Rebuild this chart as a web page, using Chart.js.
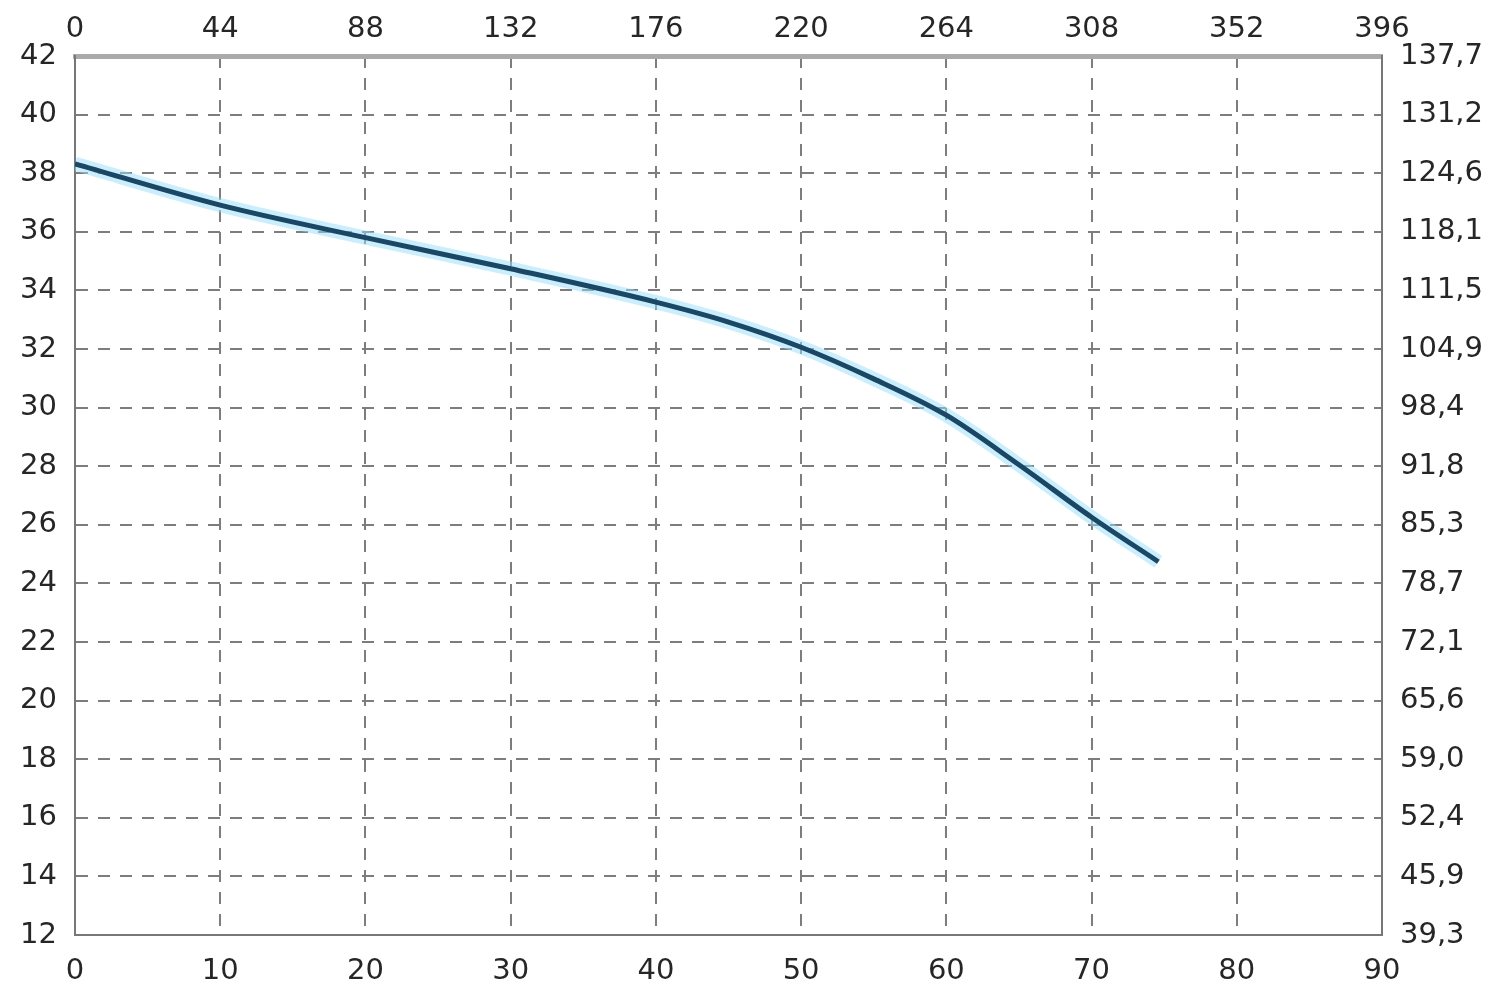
<!DOCTYPE html>
<html>
<head>
<meta charset="utf-8">
<script src="https://cdn.jsdelivr.net/npm/chart.js@4.4.1/dist/chart.umd.min.js"></script>
<style>
  html, body { margin: 0; padding: 0; background: #fff; }
  canvas { display: block; }
</style>
</head>
<body>
<canvas id="chart" width="1490" height="1000"></canvas>
<script>
// flow (bottom axis) and head (left axis)
const flow = [0, 10, 20, 30, 40, 45, 50, 55, 60, 65, 70, 74.6];
const head = [38.32, 36.91, 35.8, 34.74, 33.6, 32.92, 32.06, 30.98, 29.74, 28.05, 26.26, 24.74];

// secondary tick labels (top and right axes)
const topLabels = ['0', '44', '88', '132', '176', '220', '264', '308', '352', '396'];
const rightLabels = ['39,3', '45,9', '52,4', '59,0', '65,6', '72,1', '78,7', '85,3',
  '91,8', '98,4', '104,9', '111,5', '118,1', '124,6', '131,2', '137,7'];

const points = flow.map((x, i) => ({ x, y: head[i] }));

const font = { family: '"DejaVu Sans", sans-serif', size: 29 };
const textColor = '#262626';
const gridStyle = { color: '#7d7d7d', lineWidth: 2, drawTicks: false };
const dash = [12, 10];

function fixWidth(w) {
  return (scale) => { scale.width = w; };
}
function fixHeight(h) {
  return (scale) => { scale.height = h; };
}

new Chart(document.getElementById('chart'), {
  type: 'line',
  data: {
    datasets: [
      {
        // main curve, drawn on top
        data: points,
        order: 1,
        borderColor: '#1a4766',
        borderWidth: 5,
        pointRadius: 0,
        cubicInterpolationMode: 'monotone',
      },
      {
        // soft cyan halo behind the curve
        data: points,
        order: 2,
        borderColor: 'rgba(150, 222, 250, 0.5)',
        borderWidth: 14,
        pointRadius: 0,
        cubicInterpolationMode: 'monotone',
      },
    ],
  },
  options: {
    responsive: false,
    animation: false,
    layout: { padding: 0 },
    plugins: { legend: { display: false }, tooltip: { enabled: false } },
    scales: {
      x: {
        type: 'linear',
        position: 'bottom',
        min: 0,
        max: 90,
        afterFit: fixHeight(65),
        ticks: { stepSize: 10, autoSkip: false, maxRotation: 0, padding: 19, font, color: textColor },
        grid: { ...gridStyle },
        border: { color: '#777', width: 2, dash },
      },
      x2: {
        type: 'linear',
        position: 'top',
        min: 0,
        max: 90,
        afterFit: fixHeight(56),
        ticks: {
          stepSize: 10,
          autoSkip: false,
          maxRotation: 0,
          padding: 1,
          font,
          color: textColor,
          callback: (v, i) => topLabels[i],
        },
        grid: { display: false },
        border: { color: '#aaa', width: 5 },
      },
      y: {
        position: 'left',
        min: 12,
        max: 42,
        afterFit: fixWidth(75),
        ticks: { stepSize: 2, autoSkip: false, padding: 18, font, color: textColor },
        grid: { ...gridStyle },
        border: { color: '#777', width: 2, dash },
      },
      y2: {
        position: 'right',
        min: 12,
        max: 42,
        afterFit: fixWidth(108),
        ticks: {
          stepSize: 2,
          autoSkip: false,
          padding: 10,
          font,
          color: textColor,
          callback: (v, i) => rightLabels[i],
        },
        grid: { display: false },
        border: { color: '#777', width: 2 },
      },
    },
  },
});
</script>
</body>
</html>
